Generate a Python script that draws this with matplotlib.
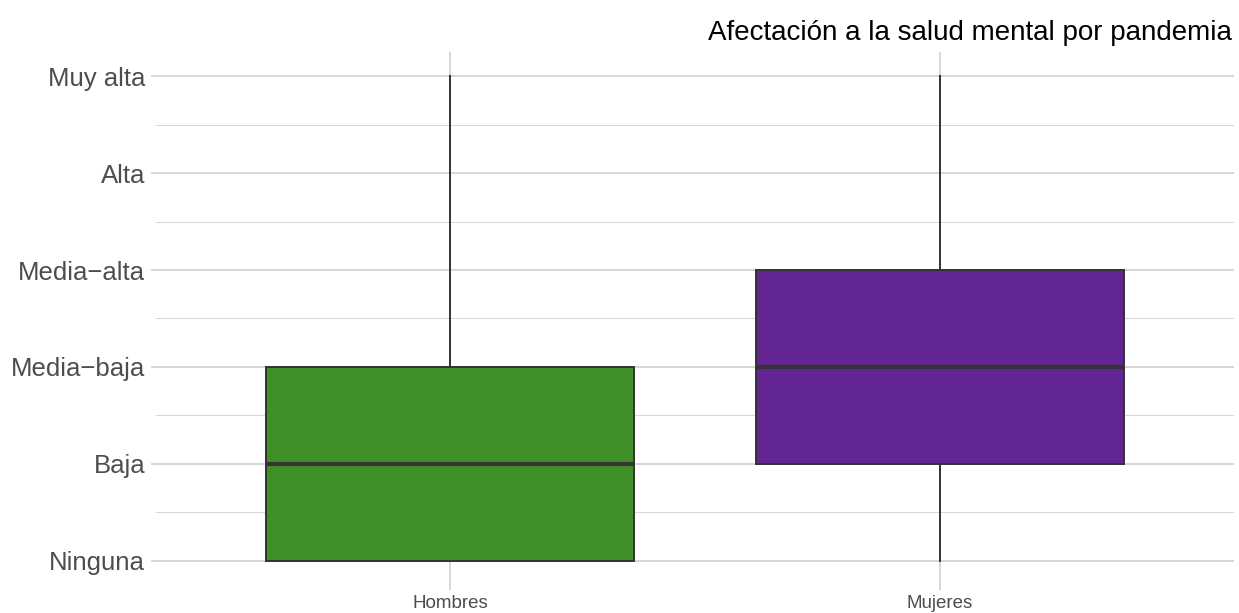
import matplotlib.pyplot as plt

plt.rcParams['font.family'] = ['Liberation Sans', 'DejaVu Sans']

# niveles de la escala (1..6)
niveles = ['Ninguna', 'Baja', 'Media\u2212baja', 'Media\u2212alta', 'Alta', 'Muy alta']
grupos = ['Hombres', 'Mujeres']
colores = ['#3f9127', '#632594']

# estadisticos de cada caja: minimo, Q1, mediana, Q3, maximo
minimo = [1, 1]
q1 = [1, 2]
mediana = [2, 3]
q3 = [3, 4]
maximo = [6, 6]

stats = []
for i, g in enumerate(grupos):
    stats.append({'label': g, 'whislo': minimo[i], 'q1': q1[i], 'med': mediana[i],
                  'q3': q3[i], 'whishi': maximo[i], 'fliers': []})

fig = plt.figure(figsize=(12.39, 6.13), dpi=100)
ax = fig.add_axes([156/1239, 28/613, (1234-156)/1239, (561-28)/613])

grid_col = '#d6d6d6'
edge = '#333333'

# grilla
for y in range(1, 7):
    ax.axhline(y, color=grid_col, lw=1.4, zorder=0)
for y in [1.5, 2.5, 3.5, 4.5, 5.5]:
    ax.axhline(y, color=grid_col, lw=0.7, zorder=0)
for x in [1, 2]:
    ax.axvline(x, color=grid_col, lw=1.4, zorder=0)

bp = ax.bxp(stats, positions=[1, 2], widths=0.75, patch_artist=True,
            showcaps=False, showfliers=False,
            boxprops=dict(edgecolor=edge, linewidth=1.4),
            whiskerprops=dict(color=edge, linewidth=1.4),
            medianprops=dict(color=edge, linewidth=3.0, solid_capstyle='butt'),
            zorder=2)
for patch, c in zip(bp['boxes'], colores):
    patch.set_facecolor(c)

ax.set_xlim(0.4, 2.6)
ax.set_ylim(0.75, 6.25)
ax.set_yticks(range(1, 7))
ax.set_yticklabels(niveles)
ax.set_xticks([1, 2])
ax.set_xticklabels(grupos)

for s in ax.spines.values():
    s.set_visible(False)

ax.tick_params(axis='y', length=3.5, width=1.4, color=grid_col, pad=4.3,
               labelsize=18.5, labelcolor='#4d4d4d')
ax.tick_params(axis='x', length=3.5, width=1.4, color=grid_col, pad=4,
               labelsize=13.5, labelcolor='#4d4d4d')

fig.text(1232/1239, 1 - 40/613, 'Afectación a la salud mental por pandemia',
         ha='right', va='baseline', fontsize=20, color='black')

fig.savefig('out.png', dpi=100)
